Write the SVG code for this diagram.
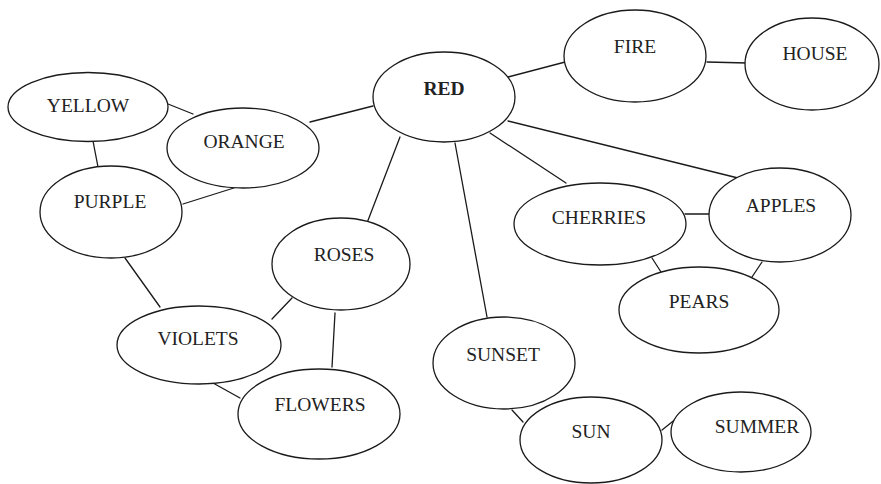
<svg xmlns="http://www.w3.org/2000/svg" width="881" height="484" viewBox="0 0 881 484">
  <style>
    .node ellipse { fill: #ffffff; stroke: #1a1a1a; stroke-width: 1.3; }
    .node text { font-family: "Liberation Serif", "Times New Roman", serif; font-size: 19.5px; fill: #222222; text-anchor: middle; }
    .node text.bold { font-weight: bold; }
    #connectors line { stroke: #1a1a1a; stroke-width: 1.3; stroke-linecap: round; }
  </style>
  <rect width="881" height="484" fill="#ffffff"/>

  <g id="connectors">
    <line x1="163" y1="102" x2="193" y2="114"/>
    <line x1="93" y1="141" x2="98" y2="167"/>
    <line x1="310" y1="122" x2="373" y2="106"/>
    <line x1="183" y1="204" x2="237" y2="187"/>
    <line x1="508" y1="77" x2="569" y2="61"/>
    <line x1="707" y1="62" x2="747" y2="63"/>
    <line x1="508" y1="121" x2="738" y2="178"/>
    <line x1="490" y1="133" x2="566" y2="183"/>
    <line x1="400" y1="137" x2="367" y2="223"/>
    <line x1="455" y1="143" x2="487" y2="317"/>
    <line x1="685" y1="214" x2="714" y2="214"/>
    <line x1="652" y1="258" x2="661" y2="272"/>
    <line x1="762" y1="262" x2="752" y2="277"/>
    <line x1="125" y1="258" x2="160" y2="307"/>
    <line x1="292" y1="298" x2="272" y2="319"/>
    <line x1="335" y1="313" x2="332" y2="367"/>
    <line x1="213" y1="383" x2="240" y2="398"/>
    <line x1="512" y1="410" x2="523" y2="422"/>
    <line x1="662" y1="430" x2="677" y2="418"/>
  </g>

  <g id="yellow" class="node">
    <ellipse cx="88" cy="107" rx="80" ry="34.5"/>
    <text x="88" y="112">YELLOW</text>
  </g>
  <g id="orange" class="node">
    <ellipse cx="243" cy="148" rx="76" ry="40"/>
    <text x="244" y="148">ORANGE</text>
  </g>
  <g id="purple" class="node">
    <ellipse cx="111" cy="212" rx="71" ry="46"/>
    <text x="110" y="208">PURPLE</text>
  </g>
  <g id="red" class="node">
    <ellipse cx="444" cy="97" rx="71" ry="45"/>
    <text class="bold" x="444" y="95">RED</text>
  </g>
  <g id="fire" class="node">
    <ellipse cx="635" cy="56" rx="71" ry="46"/>
    <text x="635" y="53">FIRE</text>
  </g>
  <g id="house" class="node">
    <ellipse cx="812" cy="64" rx="67" ry="46"/>
    <text x="815" y="60">HOUSE</text>
  </g>
  <g id="cherries" class="node">
    <ellipse cx="600" cy="224" rx="86" ry="41"/>
    <text x="599" y="224">CHERRIES</text>
  </g>
  <g id="apples" class="node">
    <ellipse cx="780" cy="215" rx="71" ry="47"/>
    <text x="781" y="212">APPLES</text>
  </g>
  <g id="pears" class="node">
    <ellipse cx="699" cy="310" rx="80" ry="43"/>
    <text x="699" y="308">PEARS</text>
  </g>
  <g id="roses" class="node">
    <ellipse cx="341" cy="264" rx="69" ry="46"/>
    <text x="344" y="261">ROSES</text>
  </g>
  <g id="violets" class="node">
    <ellipse cx="199" cy="345" rx="82" ry="39"/>
    <text x="198" y="345">VIOLETS</text>
  </g>
  <g id="flowers" class="node">
    <ellipse cx="319" cy="414" rx="81" ry="45"/>
    <text x="320" y="411">FLOWERS</text>
  </g>
  <g id="sunset" class="node">
    <ellipse cx="504" cy="363" rx="71" ry="46"/>
    <text x="503" y="361">SUNSET</text>
  </g>
  <g id="sun" class="node">
    <ellipse cx="591" cy="440" rx="71" ry="43"/>
    <text x="591" y="438">SUN</text>
  </g>
  <g id="summer" class="node">
    <ellipse cx="741" cy="432" rx="70" ry="40"/>
    <text x="757" y="433">SUMMER</text>
  </g>
</svg>
